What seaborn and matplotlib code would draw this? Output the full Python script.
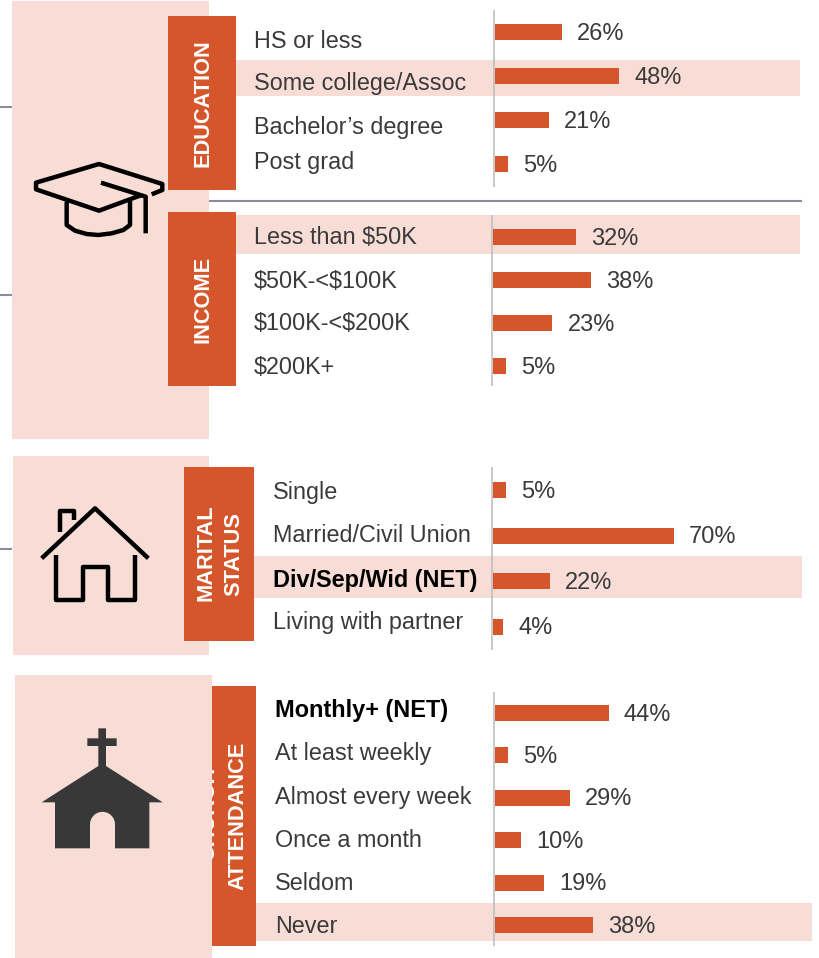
import matplotlib
matplotlib.use("Agg")
import matplotlib.pyplot as plt
import numpy as np
import seaborn as sns
from matplotlib.patches import Rectangle, Polygon

sns.set_theme(style="white")
plt.rcParams['font.family'] = ['Liberation Sans', 'DejaVu Sans']

# ---- data ----
education_labels = ["HS or less", "Some college/Assoc", "Bachelor\u2019s degree", "Post grad"]
education_values = [26, 48, 21, 5]
income_labels = ["Less than $50K", "$50K-<$100K", "$100K-<$200K", "$200K+"]
income_values = [32, 38, 23, 5]
marital_labels = ["Single", "Married/Civil Union", "Div/Sep/Wid (NET)", "Living with partner"]
marital_values = [5, 70, 22, 4]
church_labels = ["Monthly+ (NET)", "At least weekly", "Almost every week", "Once a month", "Seldom", "Never"]
church_values = [44, 5, 29, 10, 19, 38]

# ---- style / layout ----
W, H = 820, 958
ORANGE = "#D6562B"
PINK = "#F8DCD6"
TEXT = "#3A3A3A"
RULE = "#8C8C98"
AXIS = "#BFBFBF"
PX_PER_PCT = 2.585

fig = plt.figure(figsize=(W / 100, H / 100), dpi=100)
bg = fig.add_axes([0, 0, 1, 1], zorder=0)
bg.set_xlim(0, W)
bg.set_ylim(H, 0)
bg.axis("off")


def rect(x0, y0, x1, y1, color, z=1):
    r = Rectangle((x0, y0), x1 - x0, y1 - y0, facecolor=color, edgecolor="none", zorder=z)
    bg.add_patch(r)
    return r


def line(xs, ys, color="black", lw=3.2, z=5):
    bg.plot(xs, ys, color=color, lw=lw, zorder=z, solid_capstyle="butt", solid_joinstyle="round")


# panels
rect(12, 1, 209, 439, PINK)
rect(13, 456, 209, 655, PINK)
rect(15, 675, 212, 958, PINK)

# highlights
rect(236, 60, 800, 96, PINK)
rect(236, 215, 800, 254, PINK)
rect(254, 556, 802, 598, PINK)
rect(256, 903, 812, 941, PINK)

# rules
for y in (107, 295, 549):
    line([0, 12], [y, y], RULE, 1.5, 1)
line([209, 802], [201, 201], RULE, 1.5, 1)

# axis lines
line([494, 494], [10, 187], AXIS, 1.2, 2)
line([492, 492], [215, 386], AXIS, 1.2, 2)
line([492, 492], [467, 650], AXIS, 1.2, 2)
line([494, 494], [692, 946], AXIS, 1.2, 2)

# orange tabs
rect(168, 16, 236, 190, ORANGE, 3)
rect(168, 212, 236, 386, ORANGE, 3)
rect(184, 467, 254, 641, ORANGE, 3)
church_tab = rect(212, 686, 256, 946, ORANGE, 3)

tab_font = dict(color="white", fontsize=15.7, fontweight="bold", rotation=90,
                ha="center", va="center", zorder=4)
bg.text(203, 103, "EDUCATION", **tab_font)
bg.text(203, 299, "INCOME", **tab_font)
bg.text(206, 553, "MARITAL", **tab_font)
bg.text(234, 554, "STATUS", **tab_font)
bg.text(238, 816, "ATTENDANCE", **tab_font)
church_word = bg.text(209, 814, "CHURCH", **tab_font)
church_word.set_clip_path(church_tab)
church_word.set_clip_on(True)

# icons
z3 = lambda pts, oy=0: (np.array([p[0] / 3 for p in pts]), np.array([p[1] / 3 + oy for p in pts]))
# cap
line(*z3([(455, 583), (487, 570), (487, 552), (297, 492), (108, 548), (108, 568), (297, 632), (425, 585)]))
line(*z3([(303, 548), (437, 590), (437, 700)]))
line(*z3([(200, 605), (200, 675), (225, 692), (260, 702), (295, 705), (335, 700), (370, 690), (390, 675), (390, 600)]))
# house
line(*z3([(125, 325), (285, 175), (445, 325)], 450))
line(*z3([(180, 245), (180, 183), (222, 183), (222, 210)], 450))
line(*z3([(168, 315), (168, 450), (248, 450), (248, 352), (323, 352), (323, 450), (405, 450), (405, 315)], 450))
# church
arc_t = np.linspace(np.pi, 0, 20)
arc = [(307.5 + 37.5 * np.cos(t), 463 - 37.5 * np.sin(t)) for t in arc_t]
church_pts = [(125, 397), (295, 288), (295, 228), (262, 228), (262, 205), (295, 205), (295, 175), (318, 175),
              (318, 205), (350, 205), (350, 228), (318, 228), (318, 288), (488, 397), (448, 397), (448, 535),
              (345, 535)] + arc[::-1] + [(270, 535), (165, 535), (165, 397)]
xs, ys = z3(church_pts, 670)
bg.add_patch(Polygon(np.column_stack([xs, ys]), closed=True, facecolor="#383838", edgecolor="none", zorder=5))

# category labels and bars
groups = [
    (education_labels, education_values, 254, [39, 81, 125, 160], 495, 32, 44.0),
    (income_labels, income_values, 254, [235, 279, 321, 365], 493, 237, 43.0),
    (marital_labels, marital_values, 273, [490, 533, 578, 620], 493, 490, 45.6),
    (church_labels, church_values, 275, [708, 751, 795, 838, 881, 924], 495, 713, 42.4),
]
BAR_PX = 16
for labels, values, lx, lys, x0, y0, step in groups:
    for lab, ly in zip(labels, lys):
        bold = "NET" in lab
        bg.text(lx, ly, lab, fontsize=16.9 if bold else 16.8, color="black" if bold else TEXT,
                fontweight="bold" if bold else "normal", ha="left", va="center_baseline", zorder=6,
                parse_math=False)
    n = len(values)
    top = y0 - step / 2
    height = n * step
    ax_w = 320
    ax = fig.add_axes([x0 / W, 1 - (top + height) / H, ax_w / W, height / H], zorder=2)
    ax.patch.set_alpha(0)
    sns.barplot(x=values, y=labels, order=labels, color=ORANGE, saturation=1,
                width=BAR_PX / step, linewidth=0, ax=ax)
    ax.set_xlim(0, ax_w / PX_PER_PCT)
    ax.set_ylim(n - 0.5, -0.5)
    ax.axis("off")
    for c in ax.containers:
        texts = ax.bar_label(c, labels=[f"{v}%" for v in values], padding=10.8, fontsize=17, color=TEXT)
        for t in texts:
            t.xyann = (t.xyann[0], -1.1)

fig.savefig("out.png", dpi=100)
